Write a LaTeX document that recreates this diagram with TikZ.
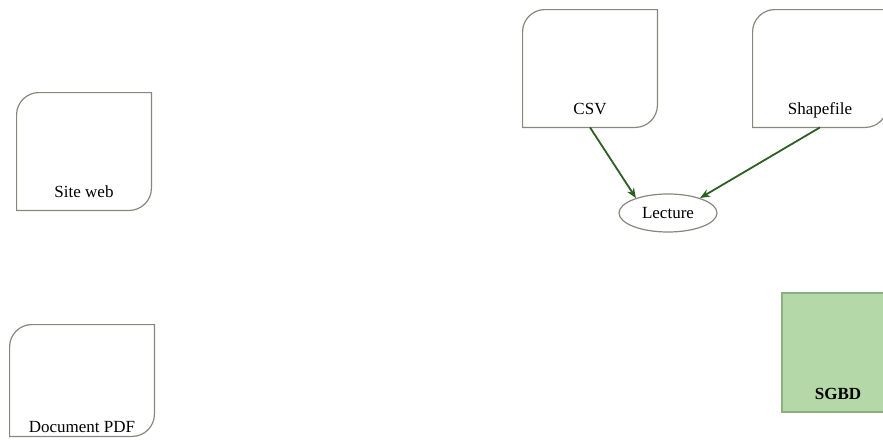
\documentclass[tikz,border=0pt]{standalone}
\usepackage{fontspec}
\setmainfont{Liberation Serif}
\usetikzlibrary{shapes.geometric,calc,positioning,arrows.meta}
\definecolor{boxgray}{RGB}{135,135,125}
\definecolor{arrowgreen}{RGB}{45,95,35}
\definecolor{dbfill}{RGB}{181,216,168}
\definecolor{dbline}{RGB}{140,175,125}
\newcommand{\docshape}[1]{\draw[boxgray,line width=0.6pt] (#1.south west) -- ([yshift=-11pt]#1.north west) .. controls ([yshift=-5pt]#1.north west) and ([xshift=5pt]#1.north west) .. ([xshift=11pt]#1.north west) -- (#1.north east) -- ([yshift=11pt]#1.south east) .. controls ([yshift=5pt]#1.south east) and ([xshift=-5pt]#1.south east) .. ([xshift=-11pt]#1.south east) -- cycle;}

\begin{document}
\begin{tikzpicture}
[x=0.5pt,y=-0.5pt,>={Stealth[length=5pt,width=4pt]},font=\fontsize{8.5}{10}\selectfont,
docbox/.style = {rectangle, inner xsep=2pt, inner ysep=5pt, minimum width=67pt, text height=47pt, text depth=1.5pt},
readnode/.style = {ellipse, draw=boxgray, line width=0.6pt, minimum width=49pt, minimum height=19pt, inner sep=0pt},
dbbox/.style = {rectangle, draw=dbline, fill=dbfill, line width=0.6pt, minimum width=56pt, inner xsep=2pt, inner ysep=5pt, text height=48pt, text depth=1.5pt, font=\fontsize{8.5}{10}\selectfont\bfseries},
flow/.style = {->, arrowgreen, line width=0.9pt},]
\useasboundingbox (0,0) rectangle (883,439);
\node (siteweb) at (84,151.5)[docbox] {Site web};
\node (pdf) at (82,380.5)[docbox, minimum width=72pt, inner ysep=1.5pt, text height=52pt, text depth=0.5pt] {Document PDF};
\node (csv) at (590,68.5)[docbox] {CSV};
\node (shapefile) at (820,68.5)[docbox] {Shapefile};
\node (lecture) at (668,213)[readnode] {Lecture};
\node (sgbd) at (838,352.5)[dbbox] {SGBD};
\docshape{siteweb}
\docshape{pdf}
\docshape{csv}
\docshape{shapefile}
\draw[flow] (csv.south) -- (lecture.155);
\draw[flow] (shapefile.south) -- (lecture.25);
\end{tikzpicture}
\end{document}
